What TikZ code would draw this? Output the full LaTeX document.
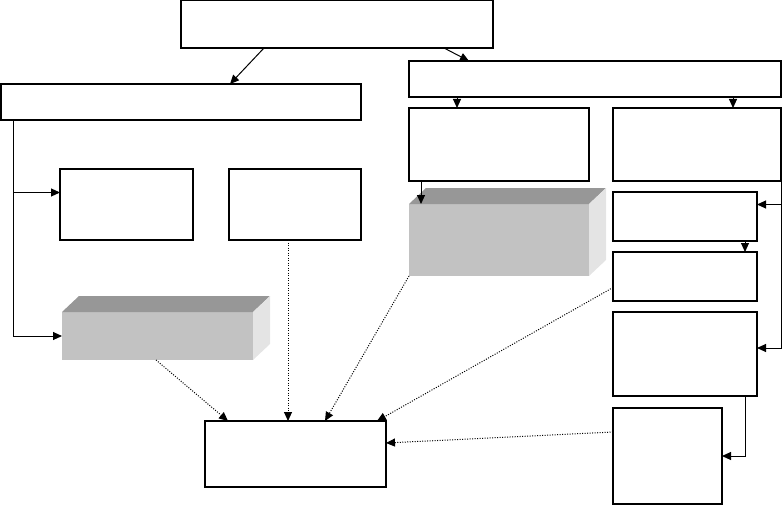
\documentclass[tikz,border=0pt]{standalone}
\usetikzlibrary{arrows.meta}
\definecolor{frontgray}{HTML}{C2C2C2}
\definecolor{topgray}{HTML}{979797}
\definecolor{sidegray}{HTML}{E4E4E4}
\tikzset{
  box/.style={draw=black, line width=1.2pt, fill=white, inner sep=0pt, outer sep=0pt, anchor=north west},
  face/.style={fill=frontgray, draw=none, inner sep=0pt, outer sep=0pt, anchor=north west},
  arr/.style={line width=1pt, -{Triangle[length=9pt,width=8pt]}},
  dotarr/.style={line width=1pt, dash pattern=on 1pt off 1.5pt, -{Triangle[length=9pt,width=8pt]}}
}
\begin{document}
\begin{tikzpicture}[x=1pt,y=-1pt]
\useasboundingbox (0,0) rectangle (783,505);
% boxes
\node[box, minimum width=312, minimum height=48] (top) at (181,0) {};
\node[box, minimum width=360, minimum height=36] (A) at (1,84) {};
\node[box, minimum width=372, minimum height=36] (B) at (409,61) {};
\node[box, minimum width=180, minimum height=73] (C1) at (409,108) {};
\node[box, minimum width=168, minimum height=73] (C2) at (613,108) {};
\node[box, minimum width=144, minimum height=49] (E) at (613,192) {};
\node[box, minimum width=144, minimum height=49] (F) at (613,252) {};
\node[box, minimum width=144, minimum height=84] (G) at (613,312) {};
\node[box, minimum width=109, minimum height=96] (H) at (613,408) {};
\node[box, minimum width=133, minimum height=71] (L1) at (60,169) {};
\node[box, minimum width=132, minimum height=71] (L2) at (229,169) {};
\node[box, minimum width=181, minimum height=66] (N) at (205,421) {};
% 3D blocks
\node[face, minimum width=180, minimum height=72] (D) at (409,204) {};
\fill[topgray] (D.north west) -- ++(17,-16) -- ([shift={(17,-16)}]D.north east) -- (D.north east) -- cycle;
\fill[sidegray] (D.north east) -- ++(17,-16) -- ([shift={(17,-16)}]D.south east) -- (D.south east) -- cycle;
\node[face, minimum width=191, minimum height=48] (M) at (62,312) {};
\fill[topgray] (M.north west) -- ++(17,-16) -- ([shift={(17,-16)}]M.north east) -- (M.north east) -- cycle;
\fill[sidegray] (M.north east) -- ++(17,-16) -- ([shift={(17,-16)}]M.south east) -- (M.south east) -- cycle;
% solid connectors
\draw[arr] ([xshift=83]top.south west) -- ([xshift=229]A.north west);
\draw[arr] ([xshift=263]top.south west) -- ([xshift=60]B.north west);
\draw[arr] ([xshift=48]B.south west) -- ([xshift=48]C1.north west);
\draw[arr] ([xshift=324]B.south west) -- ([xshift=120]C2.north west);
\draw[arr] ([xshift=12]C1.south west) -- ([xshift=12]D.north west);
\coordinate (rbus) at (C2.south east);
\coordinate (gin) at ([yshift=6]G.east);
\coordinate (ein) at ([yshift=12]E.east);
\draw[arr] (rbus) |- (gin);
\draw[arr] (rbus |- ein) -- (ein);
\draw[arr] ([xshift=132]E.south west) -- ([xshift=132]F.north west);
\draw[arr] ([xshift=132]G.south west) |- (H.east);
\coordinate (lbus) at ([xshift=12]A.south west);
\coordinate (l1in) at ([yshift=12]L1.west);
\draw[arr] (lbus) |- (M.west);
\draw[arr] (lbus |- l1in) -- (l1in);
% dotted connectors
\draw[dotarr] ([xshift=94]M.south west) -- ([xshift=23]N.north west);
\draw[dotarr] ([xshift=59]L2.south west) -- ([xshift=83]N.north west);
\draw[dotarr] (D.south west) -- ([xshift=120]N.north west);
\draw[dotarr] ([yshift=-11]F.west) -- ([xshift=-9]N.north east);
\draw[dotarr] ([yshift=24]H.west) -- ([yshift=11]N.east);
\end{tikzpicture}
\end{document}
